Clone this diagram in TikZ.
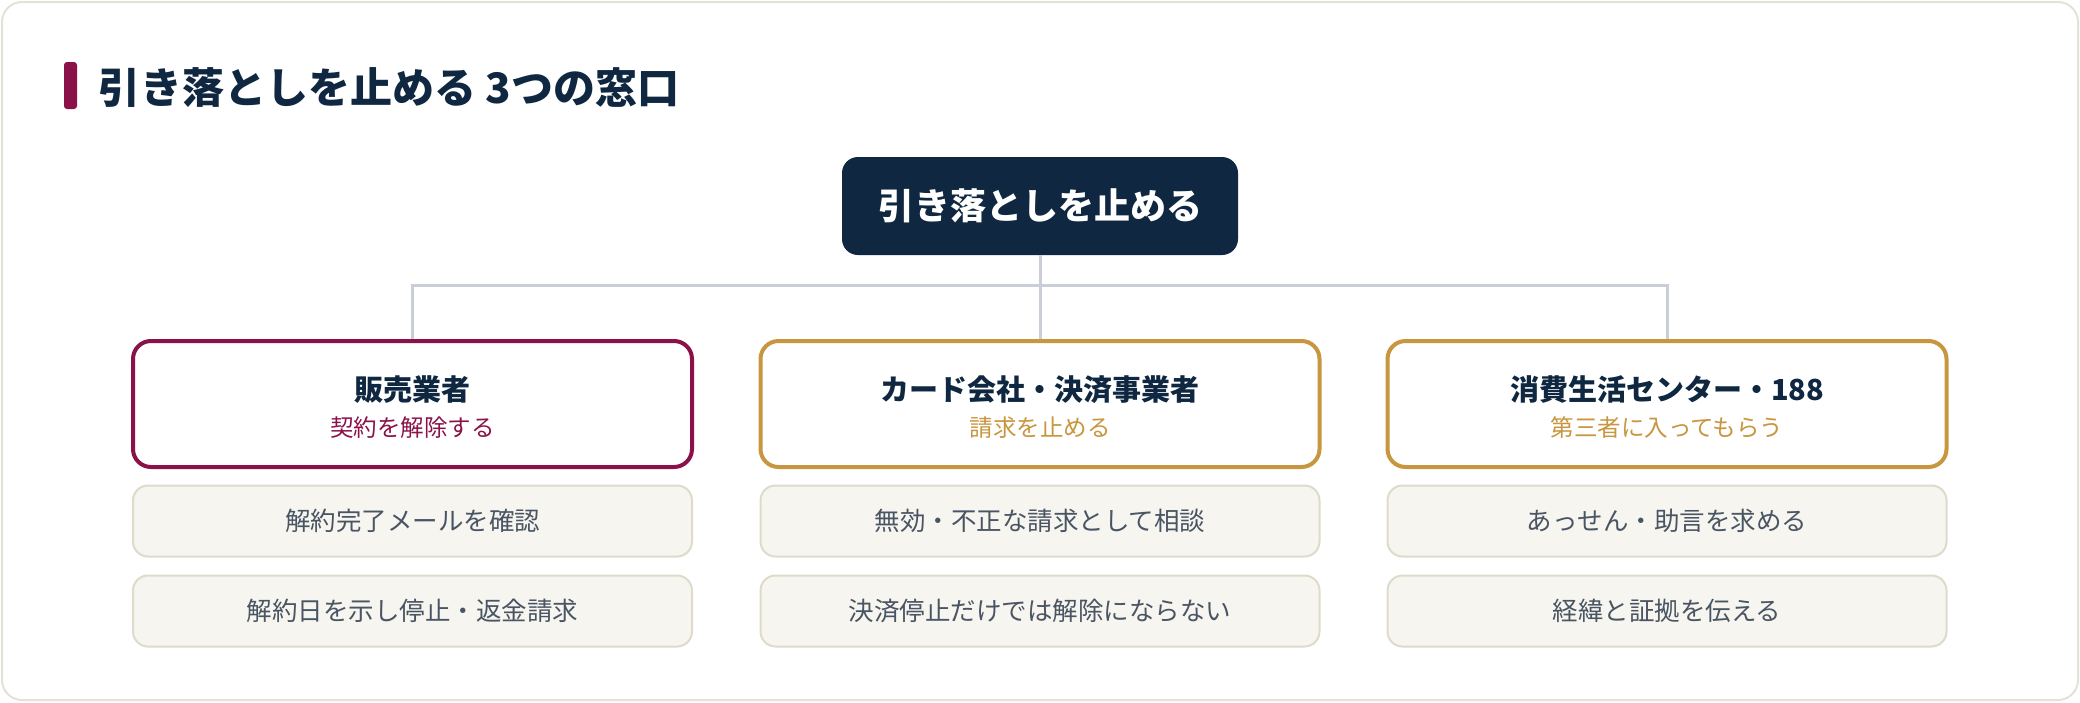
\documentclass[tikz,border=0pt]{standalone}
\usepackage{fontspec}
\setmainfont{Noto Sans CJK JP}
\definecolor{navy}{HTML}{0F2740}
\definecolor{maroon}{HTML}{8B1149}
\definecolor{gold}{HTML}{C8963E}
\definecolor{connc}{HTML}{C9CED8}
\definecolor{itemfill}{HTML}{F6F5F0}
\definecolor{itemdraw}{HTML}{DEDBCB}
\definecolor{itemtext}{HTML}{4A5563}
\definecolor{framec}{HTML}{E4E2D6}
\tikzset{
  rootbox/.style={fill=navy, text=white, rounded corners=16pt, minimum width=396pt, minimum height=98pt, inner sep=0pt, font=\fontsize{36}{42}\selectfont\bfseries},
  catbox/.style={fill=white, line width=4pt, rounded corners=18pt, minimum width=559pt, minimum height=126pt, inner sep=0pt},
  cattitle/.style={text=navy, inner sep=0pt, font=\fontsize{29}{34}\selectfont\bfseries},
  catsub/.style={inner sep=0pt, font=\fontsize{23.5}{28}\selectfont},
  itembox/.style={fill=itemfill, draw=itemdraw, line width=2pt, rounded corners=15pt, minimum width=559pt, minimum height=71pt, inner sep=0pt, text=itemtext, font=\fontsize{25.5}{30}\selectfont},
  conn/.style={draw=connc, line width=3pt},
}
\begin{document}
\begin{tikzpicture}[x=1pt,y=-1pt]
\useasboundingbox (0,0) rectangle (2080,702);
\draw[draw=framec, fill=white, line width=2pt, rounded corners=20pt] (2,2) rectangle (2078,700);
\fill[maroon, rounded corners=3pt] (64,62) rectangle (77,109);
\node[anchor=west, text=navy, inner sep=0pt, font=\fontsize{42}{50}\selectfont\bfseries] (title) at (98,88) {引き落としを止める 3つの窓口};
\node[rootbox] (root) at (1040,206) {引き落としを止める};
\node[catbox, draw=maroon] (b1) at (412.5,404) {};
\node[catbox, draw=gold] (b2) at (1040,404) {};
\node[catbox, draw=gold] (b3) at (1667,404) {};
\draw[conn] (b1.north) -- (b1.north |- 0,285) -- (b3.north |- 0,285) -- (b3.north);
\draw[conn] (root.south) -- (b2.north);
\node[cattitle] (b1t) at (412.5,390) {販売業者};
\node[catsub, text=maroon] (b1s) at (412.5,428) {契約を解除する};
\node[cattitle] (b2t) at (1040,390) {カード会社・決済事業者};
\node[catsub, text=gold] (b2s) at (1040,428) {請求を止める};
\node[cattitle] (b3t) at (1667,390) {消費生活センター・188};
\node[catsub, text=gold] (b3s) at (1667,428) {第三者に入ってもらう};
\node[itembox] (i11) at (412.5,521) {解約完了メールを確認};
\node[itembox] (i12) at (412.5,611) {解約日を示し停止・返金請求};
\node[itembox] (i21) at (1040,521) {無効・不正な請求として相談};
\node[itembox] (i22) at (1040,611) {決済停止だけでは解除にならない};
\node[itembox] (i31) at (1667,521) {あっせん・助言を求める};
\node[itembox] (i32) at (1667,611) {経緯と証拠を伝える};
\end{tikzpicture}
\end{document}
